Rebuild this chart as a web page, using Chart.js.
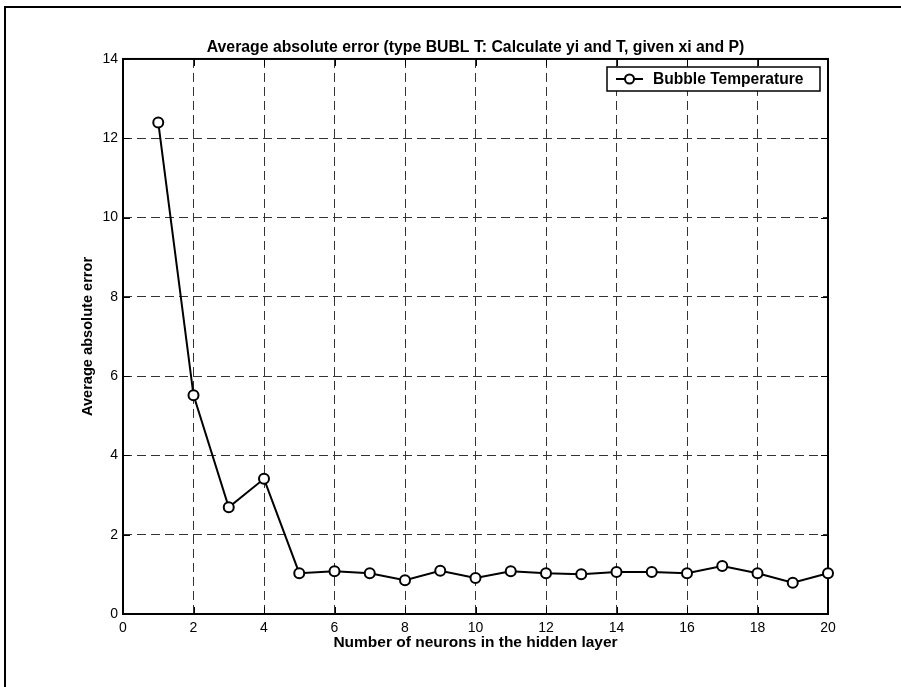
<!DOCTYPE html>
<html>
<head>
<meta charset="utf-8">
<script src="https://cdn.jsdelivr.net/npm/chart.js@4.4.0/dist/chart.umd.min.js"></script>
<style>
  html, body { margin: 0; padding: 0; background: #fff; }
  #wrap { width: 901px; height: 687px; position: relative; }
</style>
</head>
<body>
<div id="wrap"><canvas id="errChart" width="901" height="687"></canvas></div>
<script>
// neurons in hidden layer vs. average absolute error
var neurons = [1, 2, 3, 4, 5, 6, 7, 8, 9, 10, 11, 12, 13, 14, 15, 16, 17, 18, 19, 20];
var avgError = [12.40, 5.52, 2.69, 3.41, 1.03, 1.08, 1.03, 0.85, 1.09, 0.91,
                1.08, 1.03, 1.00, 1.06, 1.06, 1.03, 1.21, 1.03, 0.79, 1.03];
var xTicks = [0, 2, 4, 6, 8, 10, 12, 14, 16, 18, 20];
var yTicks = [0, 2, 4, 6, 8, 10, 12, 14];
var seriesName = 'Bubble Temperature';

var FONT = 'Arial, "Liberation Sans", sans-serif';
var points = neurons.map(function (n, i) { return { x: n, y: avgError[i] }; });

// box round the axes, inward ticks, outer frame and the legend in the corner
var matlabBox = {
    id: 'matlabBox',
    beforeDatasetsDraw: function (chart) {
        var ctx = chart.ctx, a = chart.chartArea;
        var xs = chart.scales.x, ys = chart.scales.y;
        ctx.save();
        ctx.strokeStyle = '#000';
        ctx.lineWidth = 1;
        ctx.beginPath();
        xTicks.forEach(function (t) {
            var px = Math.round(xs.getPixelForValue(t)) + 0.5;
            ctx.moveTo(px, a.bottom); ctx.lineTo(px, a.bottom - 7);
            ctx.moveTo(px, a.top); ctx.lineTo(px, a.top + 7);
        });
        yTicks.forEach(function (t) {
            var py = Math.round(ys.getPixelForValue(t)) + 0.5;
            ctx.moveTo(a.left, py); ctx.lineTo(a.left + 7, py);
            ctx.moveTo(a.right, py); ctx.lineTo(a.right - 7, py);
        });
        ctx.stroke();
        ctx.lineWidth = 2;
        ctx.strokeRect(a.left, a.top, a.right - a.left, a.bottom - a.top);
        ctx.restore();
    },
    afterDraw: function (chart) {
        var ctx = chart.ctx;
        ctx.save();
        // outer frame (top and left only)
        ctx.strokeStyle = '#000';
        ctx.lineWidth = 2;
        ctx.beginPath();
        ctx.moveTo(5, 687); ctx.lineTo(5, 7); ctx.lineTo(901, 7);
        ctx.stroke();

        // legend
        var bx = 607, by = 67, bw = 213, bh = 24;
        ctx.fillStyle = '#fff';
        ctx.fillRect(bx, by, bw, bh);
        ctx.lineWidth = 1.5;
        ctx.strokeRect(bx, by, bw, bh);
        var cy = by + bh / 2;
        ctx.lineWidth = 2;
        ctx.beginPath();
        ctx.moveTo(616, cy); ctx.lineTo(643, cy);
        ctx.stroke();
        ctx.beginPath();
        ctx.arc(629.5, cy, 4.5, 0, Math.PI * 2);
        ctx.fill();
        ctx.stroke();
        ctx.fillStyle = '#000';
        ctx.font = 'bold 15.6px ' + FONT;
        ctx.textBaseline = 'middle';
        ctx.textAlign = 'left';
        ctx.fillText(chart.data.datasets[0].label, 653, cy + 1);
        ctx.restore();
    }
};

var ctx = document.getElementById('errChart').getContext('2d');
var errChart = new Chart(ctx, {
    type: 'line',
    data: {
        datasets: [{
            label: seriesName,
            data: points,
            borderColor: '#000',
            borderWidth: 2,
            backgroundColor: '#fff',
            pointBackgroundColor: '#fff',
            pointBorderColor: '#000',
            pointBorderWidth: 2,
            pointRadius: 5,
            fill: false,
            tension: 0,
            clip: false
        }]
    },
    options: {
        responsive: false,
        animation: false,
        layout: { padding: { left: 0, right: 73, top: 0, bottom: 0 } },
        plugins: {
            legend: { display: false },
            tooltip: { enabled: false },
            title: {
                display: true,
                fullSize: false,
                text: 'Average absolute error (type BUBL T: Calculate yi and T, given xi and P)',
                color: '#000',
                font: { family: FONT, size: 15.8, weight: 'bold' },
                padding: { top: 38, bottom: 2 }
            }
        },
        scales: {
            x: {
                type: 'linear',
                min: 0,
                max: 20,
                afterBuildTicks: function (s) { s.ticks = xTicks.map(function (v) { return { value: v }; }); },
                afterFit: function (s) { s.height = 73; },
                grid: { color: '#333', lineWidth: 1, drawTicks: false, tickLength: 0 },
                border: { display: false, dash: [9, 5] },
                ticks: {
                    color: '#000',
                    padding: 6,
                    maxRotation: 0,
                    font: { family: FONT, size: 14 }
                },
                title: {
                    display: true,
                    text: 'Number of neurons in the hidden layer',
                    color: '#000',
                    font: { family: FONT, size: 15.5, weight: 'bold' },
                    padding: { top: 0, bottom: 35 }
                }
            },
            y: {
                type: 'linear',
                min: 0,
                max: 14,
                afterBuildTicks: function (s) { s.ticks = yTicks.map(function (v) { return { value: v }; }); },
                afterFit: function (s) { s.width = 123; },
                grid: { color: '#333', lineWidth: 1, drawTicks: false, tickLength: 0 },
                border: { display: false, dash: [9, 5] },
                ticks: {
                    color: '#000',
                    padding: 5,
                    font: { family: FONT, size: 14 }
                },
                title: {
                    display: true,
                    text: 'Average absolute error',
                    color: '#000',
                    font: { family: FONT, size: 14.6, weight: 'bold' },
                    padding: { top: 79, bottom: 0 }
                }
            }
        }
    },
    plugins: [matlabBox]
});
</script>
</body>
</html>
